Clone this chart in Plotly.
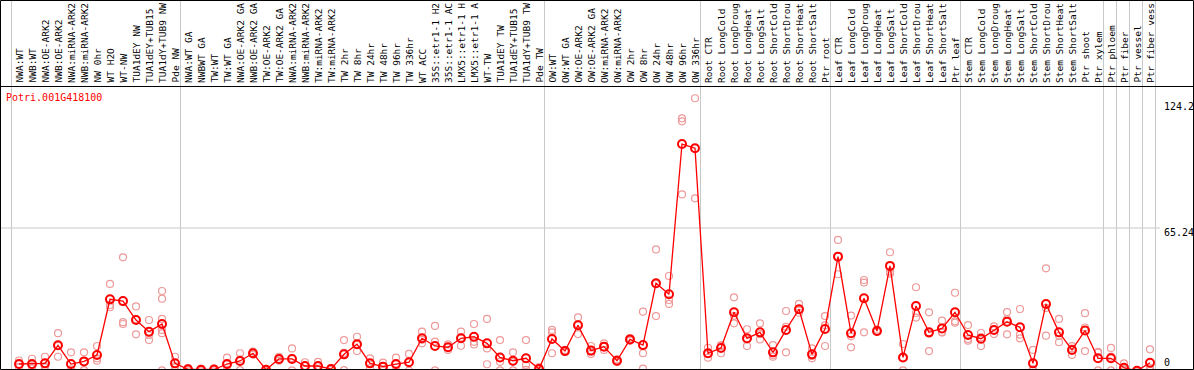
import plotly.graph_objects as go

W, H = 1194, 370

gene_id = "Potri.001G418100"

categories = [
    "NWA:WT", "NWB:WT", "NWA:OE-ARK2", "NWB:OE-ARK2", "NWA:miRNA-ARK2", "NWB:miRNA-ARK2",
    "NW 0hr", "WT H2O", "WT-NW", "TUA1dEY NW", "TUA1dEY+TUB15", "TUA1dY+TUB9 NW", "Pde NW",
    "NWA:WT GA", "NWBWT GA", "TW:WT", "TW:WT GA", "NWA:OE-ARK2 GA", "NWB:OE-ARK2 GA",
    "TW:OE-ARK2", "TW:OE-ARK2 GA", "NWA:miRNA-ARK2", "NWB:miRNA-ARK2", "TW:miRNA-ARK2",
    "TW:miRNA-ARK2", "TW 2hr", "TW 8hr", "TW 24hr", "TW 48hr", "TW 96hr", "TW 336hr",
    "WT ACC", "35S::etr1-1 H2", "35S::etr1-1 AC", "LMX5::etr1-1 H", "LMX5::etr1-1 A",
    "WT-TW", "TUA1dEY TW", "TUA1dEY+TUB15", "TUA1dY+TUB9 TW", "Pde TW",
    "OW:WT", "OW:WT GA", "OW:OE-ARK2", "OW:OE-ARK2 GA", "OW:miRNA-ARK2", "OW:miRNA-ARK2",
    "OW 2hr", "OW 8hr", "OW 24hr", "OW 48hr", "OW 96hr", "OW 336hr",
    "Root CTR", "Root LongCold", "Root LongDroug", "Root LongHeat", "Root LongSalt",
    "Root ShortCold", "Root ShortDrou", "Root ShortHeat", "Root ShortSalt", "Ptr root",
    "Leaf CTR", "Leaf LongCold", "Leaf LongDroug", "Leaf LongHeat", "Leaf LongSalt",
    "Leaf ShortCold", "Leaf ShortDrou", "Leaf ShortHeat", "Leaf ShortSalt", "Ptr leaf",
    "Stem CTR", "Stem LongCold", "Stem LongDroug", "Stem LongHeat", "Stem LongSalt",
    "Stem ShortCold", "Stem ShortDrou", "Stem ShortHeat", "Stem ShortSalt", "Ptr shoot",
    "Ptr xylem", "Ptr phloem", "Ptr fiber", "Ptr vessel", "Ptr fiber vess",
]

means = [
    3.4, 3.4, 3.7, 11.9, 3.4, 4.6, 7.5, 32.8, 32.0, 23.4, 18.1, 21.6, 3.7,
    1.0, 0.8, 0.9, 3.4, 4.8, 8.3, 0.8, 5.7, 5.7, 2.5, 2.5, 1.1, 7.8, 12.4, 3.7, 2.2,
    3.4, 4.2, 15.1, 11.6, 11.0, 15.1, 15.8, 12.8, 6.4, 4.9, 6.0, 1.1,
    14.8, 9.3, 21.0, 9.5, 11.3, 4.9, 14.6, 12.0, 40.1, 35.1, 103.4, 101.5,
    8.3, 10.7, 26.9, 15.1, 17.8, 8.7, 18.9, 28.3, 7.8, 19.3,
    52.2, 17.4, 33.3, 18.4, 48.0, 6.4, 29.8, 17.8, 19.6, 26.9,
    16.6, 14.9, 18.9, 22.6, 20.1, 3.7, 30.7, 17.8, 9.8, 18.6, 6.0,
    6.0, 1.7, 0.3, 4.0,
]

replicates = [
    [5.0, 3.2, 2.0], [5.8, 3.0, 1.4], [6.7, 2.5, 1.9], [17.4, 11.6, 6.7], [8.7, 1.0, 0.5],
    [8.7, 4.5, 0.6], [11.6, 6.0, 4.9], [39.8, 30.2, 29.2], [51.9, 22.4, 21.6], [29.6, 23.7, 16.9],
    [23.4, 16.6, 14.3], [36.6, 33.1, 23.9, 18.9, 17.4, 0.5], [6.7, 2.5, 1.9],
    [1.5, 1.0, 0.5], [1.2, 0.8, 0.4], [1.3, 0.9, 0.5], [6.3, 3.2, 0.7], [8.3, 5.5, 0.6],
    [9.0, 8.2, 7.7], [1.2, 0.8, 0.4], [6.7, 5.6, 4.9], [10.5, 6.1, 0.5], [4.2, 2.5, 0.8],
    [4.4, 2.4, 0.7], [1.5, 1.1, 0.7], [14.3, 8.5, 0.6], [15.8, 12.1, 9.3], [6.0, 3.7, 1.4],
    [4.0, 2.2, 0.4], [6.3, 3.4, 0.5], [8.0, 4.2, 0.4], [18.1, 14.4, 12.8], [20.7, 13.6, 0.5],
    [12.3, 11.0, 9.8], [18.1, 15.5, 11.7], [21.6, 13.5, 12.3], [23.9, 10.5, 3.3],
    [14.3, 4.4, 0.5], [8.7, 4.4, 0.5], [14.3, 3.0, 0.7], [2.0, 1.0, 0.3],
    [18.9, 17.8, 8.3], [9.8, 9.3, 8.8], [24.6, 21.4, 17.0], [11.6, 9.0, 8.0], [12.8, 11.3, 9.8],
    [5.5, 4.9, 4.3], [15.2, 14.6, 14.0], [27.2, 8.3, 1.3], [55.5, 39.8, 25.2], [43.4, 32.5, 30.7],
    [115.1, 113.7, 80.5], [124.2, 101.5, 78.7],
    [10.8, 8.0, 6.3], [12.0, 11.5, 8.3], [33.7, 25.3, 21.9], [19.2, 14.5, 11.6], [21.9, 17.0, 14.6],
    [12.0, 7.5, 6.7], [27.5, 20.3, 8.7], [30.7, 28.0, 26.7], [10.5, 7.0, 6.0], [25.2, 21.0, 11.6],
    [59.8, 52.5, 44.2], [25.4, 16.0, 11.0], [41.6, 40.4, 17.8], [19.0, 18.4, 18.0], [54.2, 45.4, 44.5],
    [12.5, 6.2, 0.5], [38.3, 26.6, 24.5], [26.9, 17.2, 9.3], [23.1, 18.0, 17.7], [35.8, 22.8, 22.2],
    [21.1, 14.8, 14.0], [17.5, 15.5, 11.6], [20.5, 18.9, 17.0], [27.0, 23.8, 16.9], [28.4, 16.8, 15.1],
    [9.8, 1.0, 0.4], [46.9, 28.9, 16.3], [23.9, 16.2, 13.3], [11.5, 10.4, 7.5], [26.5, 20.0, 9.3],
    [8.6, 8.9, 0.5], [10.7, 6.8, 0.5], [3.7, 1.2, 0.2], [0.6, 0.2, 0.1], [10.1, 1.5, 0.4],
]

# index of the last sample in each group (separator drawn after it)
group_ends = [-1, 12, 40, 52, 62, 72, 83, 84, 85, 86, 87]

y_max_label = 124.2
y_mid_label = 65.24
y_labels = ["124.2", "65.24", "0"]

MONO = "DejaVu Sans Mono"

# pixel geometry
x0_px, step_px = 19.0, 13.0
plot_top_px, plot_bot_px = 86, 369
zero_px, px_per_unit = 371.5, 2.2

x_range = [(0 - x0_px) / step_px, (W - x0_px) / step_px]
y_range = [(zero_px - plot_bot_px) / px_per_unit, (zero_px - plot_top_px) / px_per_unit]

rep_x, rep_y = [], []
for i, reps in enumerate(replicates):
    for v in reps:
        rep_x.append(i)
        rep_y.append(v)

fig = go.Figure()
fig.add_trace(go.Scatter(
    x=rep_x, y=rep_y, mode="markers",
    marker=dict(symbol="circle-open", size=7, color="#EE9A9A", line=dict(width=1.2, color="#EE9A9A")),
    hoverinfo="skip", showlegend=False,
))
fig.add_trace(go.Scatter(
    x=list(range(len(categories))), y=means, mode="lines+markers",
    line=dict(color="#FF0000", width=1.3),
    marker=dict(symbol="circle-open", size=8, color="#FF0000", line=dict(width=2, color="#FF0000")),
    showlegend=False,
))

shapes = []
# vertical group separators, full height
for k in group_ends:
    xv = k + 5.5 / step_px
    shapes.append(dict(type="line", xref="x", yref="paper", x0=xv, x1=xv, y0=0, y1=1,
                       line=dict(color="#C8C8C8", width=1), layer="below"))
# horizontal gridline at mid label
shapes.append(dict(type="line", xref="paper", yref="y", x0=0, x1=1160 / W,
                   y0=y_mid_label, y1=y_mid_label, line=dict(color="#C8C8C8", width=1), layer="below"))
# separator between label band and plot
shapes.append(dict(type="line", xref="paper", yref="paper", x0=0, x1=1,
                   y0=(H - 86.5) / H, y1=(H - 86.5) / H, line=dict(color="black", width=1)))
# outer border
shapes.append(dict(type="rect", xref="paper", yref="paper", x0=0.5 / W, x1=(W - 0.5) / W,
                   y0=0.5 / H, y1=(H - 0.5) / H, line=dict(color="black", width=1)))

annotations = []
for i, name in enumerate(categories):
    annotations.append(dict(
        x=i, xref="x", y=(H - 84) / H, yref="paper", text=name, textangle=-90,
        xanchor="center", yanchor="bottom", showarrow=False, borderpad=0,
        font=dict(family=MONO, size=9.5, color="black"),
    ))
annotations.append(dict(x=5 / W, xref="paper", y=(H - 97) / H, yref="paper", text=gene_id,
                        xanchor="left", yanchor="middle", showarrow=False, borderpad=0,
                        font=dict(family=MONO, size=10, color="#FF0000")))
for txt, cy in zip(y_labels, [106.5, 232, 362]):
    annotations.append(dict(x=1163 / W, xref="paper", y=(H - cy) / H, yref="paper", text=txt,
                            xanchor="left", yanchor="middle", showarrow=False, borderpad=0,
                            font=dict(family=MONO, size=10, color="black")))

fig.update_layout(
    width=W, height=H, margin=dict(l=0, r=0, t=0, b=0),
    paper_bgcolor="white", plot_bgcolor="rgba(0,0,0,0)",
    xaxis=dict(domain=[0, 1], range=x_range, showgrid=False, zeroline=False,
               showticklabels=False, ticks="", fixedrange=True),
    yaxis=dict(domain=[(H - plot_bot_px) / H, (H - plot_top_px) / H], range=y_range,
               showgrid=False, zeroline=False, showticklabels=False, ticks="", fixedrange=True),
    shapes=shapes, annotations=annotations, hovermode=False,
)

fig.write_html(
    "out.html",
    config={"displayModeBar": False, "staticPlot": True},
    post_script="document.body.style.margin='0px';document.body.style.overflow='hidden';",
)
